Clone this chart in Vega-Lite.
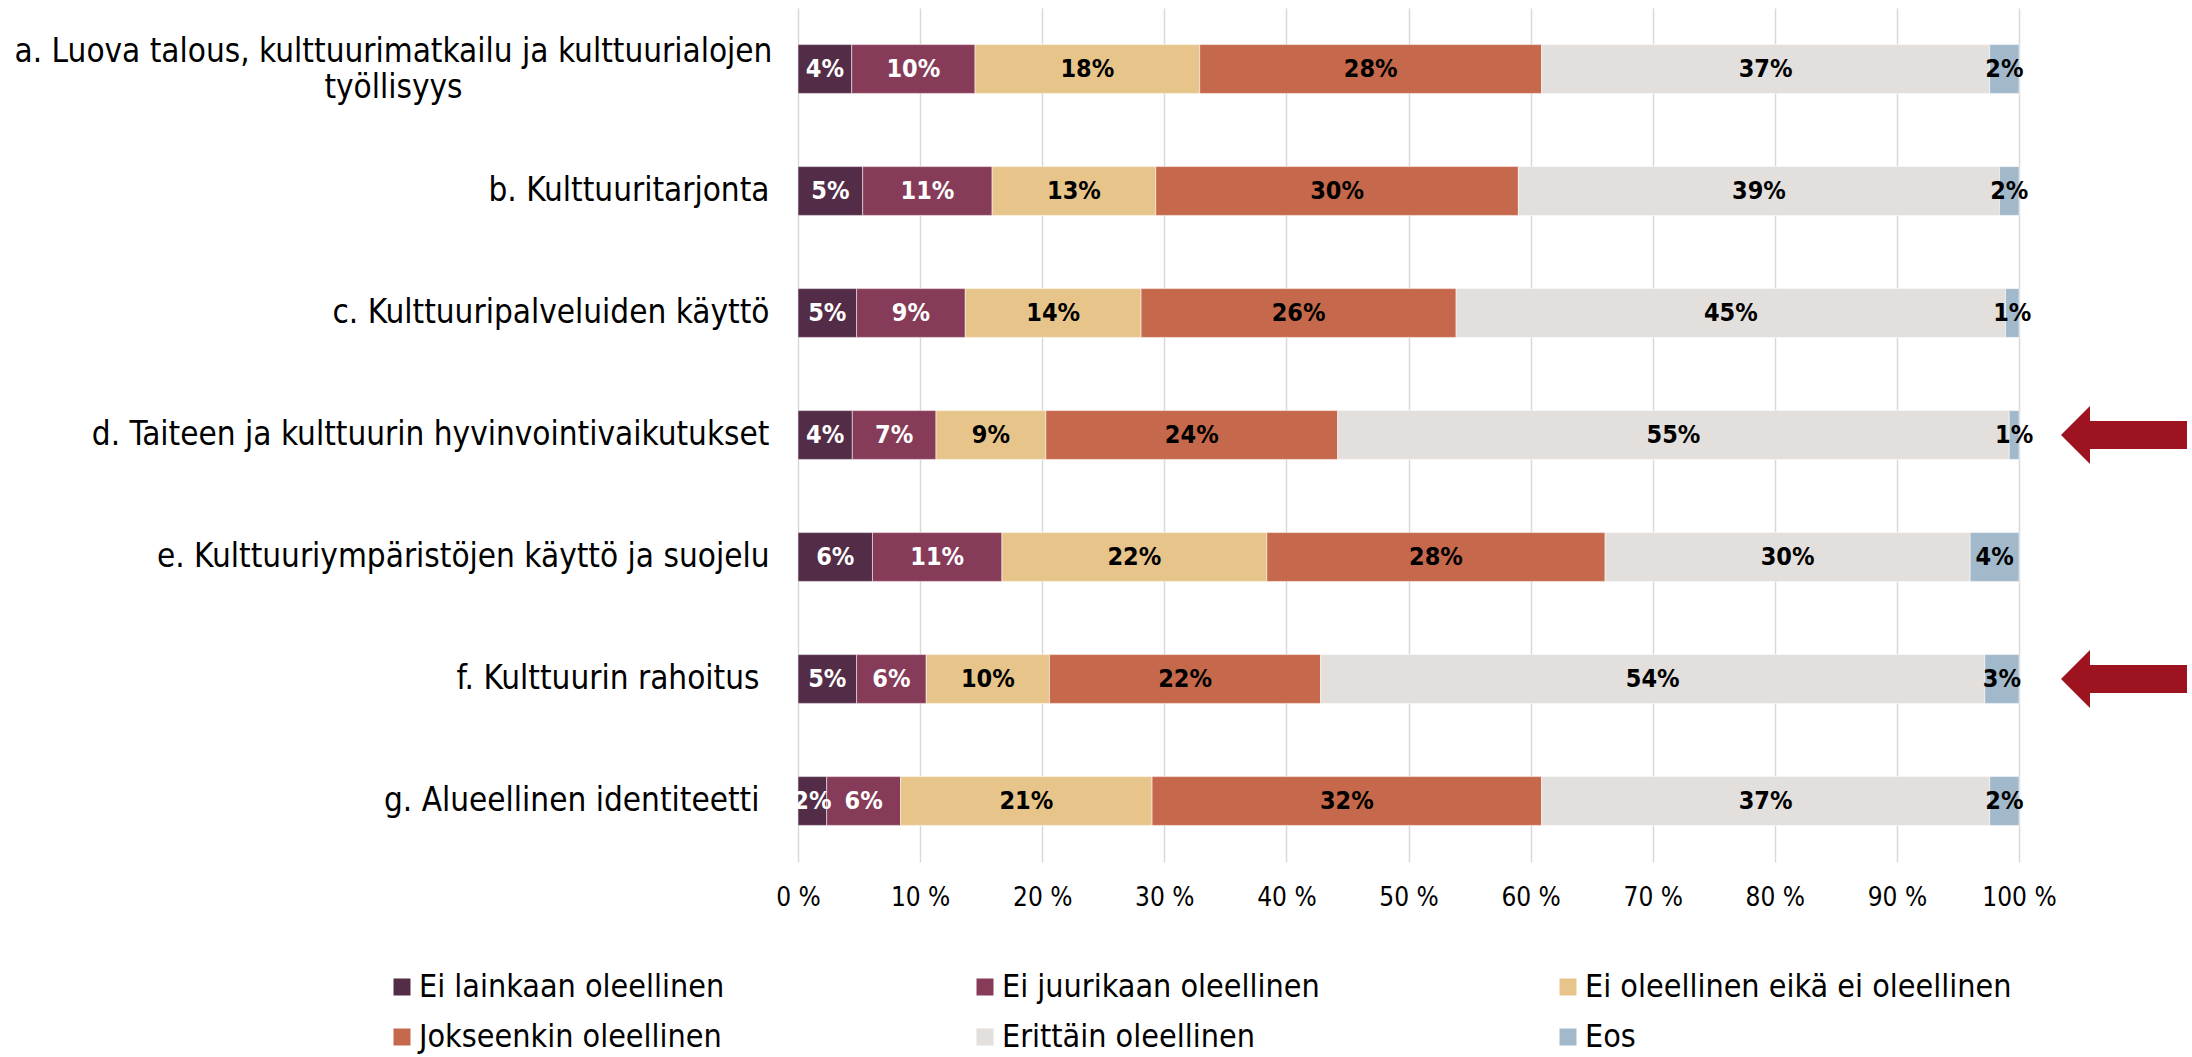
{
  "$schema": "https://vega.github.io/schema/vega-lite/v6.json",
  "width": 1221,
  "height": 854,
  "autosize": {"type": "none"},
  "padding": {"left": 798, "top": 8, "right": 173, "bottom": 195},
  "background": "white",
  "config": {
    "view": {"stroke": null},
    "font": "Tahoma, 'DejaVu Sans Condensed', 'DejaVu Sans'"
  },
  "data": {
    "values": [
      {"cat": "a. Luova talous, kulttuurimatkailu ja kulttuurialojen|työllisyys", "level": "Ei lainkaan oleellinen", "o": 0, "v": 0.044},
      {"cat": "a. Luova talous, kulttuurimatkailu ja kulttuurialojen|työllisyys", "level": "Ei juurikaan oleellinen", "o": 1, "v": 0.101},
      {"cat": "a. Luova talous, kulttuurimatkailu ja kulttuurialojen|työllisyys", "level": "Ei oleellinen eikä ei oleellinen", "o": 2, "v": 0.184},
      {"cat": "a. Luova talous, kulttuurimatkailu ja kulttuurialojen|työllisyys", "level": "Jokseenkin oleellinen", "o": 3, "v": 0.280},
      {"cat": "a. Luova talous, kulttuurimatkailu ja kulttuurialojen|työllisyys", "level": "Erittäin oleellinen", "o": 4, "v": 0.367},
      {"cat": "a. Luova talous, kulttuurimatkailu ja kulttuurialojen|työllisyys", "level": "Eos", "o": 5, "v": 0.024},
      {"cat": "b. Kulttuuritarjonta", "level": "Ei lainkaan oleellinen", "o": 0, "v": 0.053},
      {"cat": "b. Kulttuuritarjonta", "level": "Ei juurikaan oleellinen", "o": 1, "v": 0.106},
      {"cat": "b. Kulttuuritarjonta", "level": "Ei oleellinen eikä ei oleellinen", "o": 2, "v": 0.134},
      {"cat": "b. Kulttuuritarjonta", "level": "Jokseenkin oleellinen", "o": 3, "v": 0.297},
      {"cat": "b. Kulttuuritarjonta", "level": "Erittäin oleellinen", "o": 4, "v": 0.394},
      {"cat": "b. Kulttuuritarjonta", "level": "Eos", "o": 5, "v": 0.016},
      {"cat": "c. Kulttuuripalveluiden käyttö", "level": "Ei lainkaan oleellinen", "o": 0, "v": 0.048},
      {"cat": "c. Kulttuuripalveluiden käyttö", "level": "Ei juurikaan oleellinen", "o": 1, "v": 0.089},
      {"cat": "c. Kulttuuripalveluiden käyttö", "level": "Ei oleellinen eikä ei oleellinen", "o": 2, "v": 0.144},
      {"cat": "c. Kulttuuripalveluiden käyttö", "level": "Jokseenkin oleellinen", "o": 3, "v": 0.258},
      {"cat": "c. Kulttuuripalveluiden käyttö", "level": "Erittäin oleellinen", "o": 4, "v": 0.450},
      {"cat": "c. Kulttuuripalveluiden käyttö", "level": "Eos", "o": 5, "v": 0.011},
      {"cat": "d. Taiteen ja kulttuurin hyvinvointivaikutukset", "level": "Ei lainkaan oleellinen", "o": 0, "v": 0.0445},
      {"cat": "d. Taiteen ja kulttuurin hyvinvointivaikutukset", "level": "Ei juurikaan oleellinen", "o": 1, "v": 0.0685},
      {"cat": "d. Taiteen ja kulttuurin hyvinvointivaikutukset", "level": "Ei oleellinen eikä ei oleellinen", "o": 2, "v": 0.090},
      {"cat": "d. Taiteen ja kulttuurin hyvinvointivaikutukset", "level": "Jokseenkin oleellinen", "o": 3, "v": 0.239},
      {"cat": "d. Taiteen ja kulttuurin hyvinvointivaikutukset", "level": "Erittäin oleellinen", "o": 4, "v": 0.550},
      {"cat": "d. Taiteen ja kulttuurin hyvinvointivaikutukset", "level": "Eos", "o": 5, "v": 0.008},
      {"cat": "e. Kulttuuriympäristöjen käyttö ja suojelu", "level": "Ei lainkaan oleellinen", "o": 0, "v": 0.061},
      {"cat": "e. Kulttuuriympäristöjen käyttö ja suojelu", "level": "Ei juurikaan oleellinen", "o": 1, "v": 0.106},
      {"cat": "e. Kulttuuriympäristöjen käyttö ja suojelu", "level": "Ei oleellinen eikä ei oleellinen", "o": 2, "v": 0.217},
      {"cat": "e. Kulttuuriympäristöjen käyttö ja suojelu", "level": "Jokseenkin oleellinen", "o": 3, "v": 0.277},
      {"cat": "e. Kulttuuriympäristöjen käyttö ja suojelu", "level": "Erittäin oleellinen", "o": 4, "v": 0.299},
      {"cat": "e. Kulttuuriympäristöjen käyttö ja suojelu", "level": "Eos", "o": 5, "v": 0.040},
      {"cat": "f. Kulttuurin rahoitus", "level": "Ei lainkaan oleellinen", "o": 0, "v": 0.048},
      {"cat": "f. Kulttuurin rahoitus", "level": "Ei juurikaan oleellinen", "o": 1, "v": 0.057},
      {"cat": "f. Kulttuurin rahoitus", "level": "Ei oleellinen eikä ei oleellinen", "o": 2, "v": 0.101},
      {"cat": "f. Kulttuurin rahoitus", "level": "Jokseenkin oleellinen", "o": 3, "v": 0.222},
      {"cat": "f. Kulttuurin rahoitus", "level": "Erittäin oleellinen", "o": 4, "v": 0.544},
      {"cat": "f. Kulttuurin rahoitus", "level": "Eos", "o": 5, "v": 0.028},
      {"cat": "g. Alueellinen identiteetti", "level": "Ei lainkaan oleellinen", "o": 0, "v": 0.0235},
      {"cat": "g. Alueellinen identiteetti", "level": "Ei juurikaan oleellinen", "o": 1, "v": 0.0605},
      {"cat": "g. Alueellinen identiteetti", "level": "Ei oleellinen eikä ei oleellinen", "o": 2, "v": 0.206},
      {"cat": "g. Alueellinen identiteetti", "level": "Jokseenkin oleellinen", "o": 3, "v": 0.319},
      {"cat": "g. Alueellinen identiteetti", "level": "Erittäin oleellinen", "o": 4, "v": 0.367},
      {"cat": "g. Alueellinen identiteetti", "level": "Eos", "o": 5, "v": 0.024}
    ]
  },
  "layer": [
    {
      "mark": {"type": "bar", "stroke": "white", "strokeWidth": 1, "strokeOpacity": 0.5},
      "encoding": {
        "y": {
          "field": "cat", "type": "nominal", "sort": null,
          "scale": {
            "domain": [
              "a. Luova talous, kulttuurimatkailu ja kulttuurialojen|työllisyys",
              "b. Kulttuuritarjonta",
              "c. Kulttuuripalveluiden käyttö",
              "d. Taiteen ja kulttuurin hyvinvointivaikutukset",
              "e. Kulttuuriympäristöjen käyttö ja suojelu",
              "f. Kulttuurin rahoitus",
              "g. Alueellinen identiteetti"
            ],
            "paddingInner": 0.6, "paddingOuter": 0.3
          },
          "axis": {
            "title": null, "domain": false, "ticks": false, "grid": false,
            "labelFontSize": 33, "labelColor": "black", "labelLimit": 1000,
            "labelExpr": "split(datum.label, '|')",
            "labelLineHeight": 36,
            "labelBaseline": "middle",
            "labelAlign": {"condition": {"test": "indexof(datum.value, '|') >= 0", "value": "center"}, "value": "right"},
            "labelPadding": {
              "condition": [
                {"test": "indexof(datum.value, '|') >= 0", "value": 405},
                {"test": "datum.value == 'f. Kulttuurin rahoitus' || datum.value == 'g. Alueellinen identiteetti'", "value": 39}
              ],
              "value": 29
            },
            "labelOffset": {"condition": {"test": "indexof(datum.value, '|') >= 0", "value": -17}, "value": 0}
          }
        },
        "x": {
          "field": "v", "type": "quantitative", "stack": "zero",
          "scale": {"domain": [0, 1], "nice": false},
          "axis": {
            "title": null, "domain": false, "ticks": false,
            "values": [0, 0.1, 0.2, 0.3, 0.4, 0.5, 0.6, 0.7, 0.8, 0.9, 1],
            "labelExpr": "format(datum.value * 100, '.0f') + ' %'",
            "grid": true, "gridColor": "#D9D9D9", "gridWidth": 1.5,
            "labelFontSize": 26, "labelColor": "black", "labelPadding": 22, "labelFlush": false
          }
        },
        "color": {
          "field": "level", "type": "nominal",
          "scale": {
            "domain": ["Ei lainkaan oleellinen", "Ei juurikaan oleellinen", "Ei oleellinen eikä ei oleellinen", "Jokseenkin oleellinen", "Erittäin oleellinen", "Eos"],
            "range": ["#532D47", "#863C58", "#E7C48A", "#C6684B", "#E2DFDC", "#A2B9CB"]
          },
          "legend": {
            "orient": "none", "legendX": -412, "legendY": 963,
            "direction": "horizontal", "columns": 3, "gridAlign": "all",
            "title": null, "symbolType": "square", "symbolSize": 289, "symbolStrokeWidth": 0,
            "labelFontSize": 32, "labelColor": "black", "labelOffset": 1,
            "columnPadding": 123, "rowPadding": 18, "labelLimit": 700
          }
        },
        "order": {"field": "o", "type": "quantitative"}
      }
    },
    {
      "mark": {"type": "text", "fontWeight": "bold", "fontSize": 25, "baseline": "middle", "align": "center"},
      "encoding": {
        "y": {"field": "cat", "type": "nominal", "sort": null},
        "x": {"field": "v", "type": "quantitative", "stack": "zero", "bandPosition": 0.5},
        "detail": {"field": "level"},
        "order": {"field": "o", "type": "quantitative"},
        "text": {"field": "v", "type": "quantitative", "format": ".0%"},
        "color": {"condition": {"test": "datum.o < 2", "value": "white"}, "value": "black"}
      }
    },
    {
      "data": {"values": [{"cat": "d. Taiteen ja kulttuurin hyvinvointivaikutukset"}, {"cat": "f. Kulttuurin rahoitus"}]},
      "mark": {
        "type": "point", "filled": true, "opacity": 1, "strokeWidth": 0, "color": "#9E1320",
        "size": 15876,
        "shape": "M -1 0 L -0.54 -0.46 L -0.54 -0.222 L 1 -0.222 L 1 0.222 L -0.54 0.222 L -0.54 0.46 Z"
      },
      "encoding": {
        "y": {"field": "cat", "type": "nominal", "sort": null},
        "x": {"datum": 1.086}
      }
    }
  ]
}
